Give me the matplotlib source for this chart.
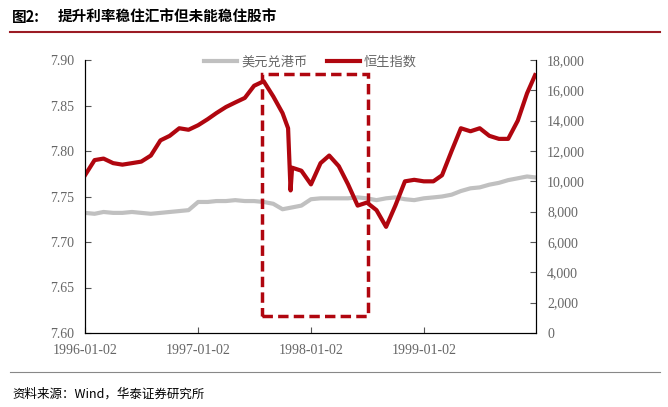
import matplotlib
matplotlib.use("Agg")
import matplotlib.pyplot as plt
import matplotlib.dates as mdates
from matplotlib.patches import Rectangle
import pandas as pd

plt.rcParams['font.family'] = ['Liberation Serif', 'Noto Sans CJK SC']

dates = list(pd.date_range("1996-01-01", periods=48, freq="MS") + pd.Timedelta(days=1))
hsi = [10400, 11400, 11500, 11200, 11100, 11200, 11300, 11700, 12700, 13000, 13500, 13400,
       13700, 14100, 14500, 14900, 15200, 15500, 16300, 16600, 15600, 14500, 10900, 10700,
       9800, 11200, 11700, 11000, 9800, 8400, 8600, 8100, 7000, 8400, 10000, 10100,
       10000, 10000, 10400, 12000, 13500, 13300, 13500, 13000, 12800, 12800, 14000, 15800]
extra_dates = [pd.Timestamp("1997-10-20"), pd.Timestamp("1997-10-28"), pd.Timestamp("1999-12-28")]
extra_hsi = [13500, 9400, 17000]
hkd = [7.732, 7.731, 7.733, 7.732, 7.732, 7.733, 7.732, 7.731, 7.732, 7.733, 7.734, 7.735,
       7.744, 7.744, 7.745, 7.745, 7.746, 7.745, 7.745, 7.744, 7.742, 7.736, 7.738, 7.740,
       7.747, 7.748, 7.748, 7.748, 7.748, 7.749, 7.748, 7.746, 7.748, 7.749, 7.747, 7.746,
       7.748, 7.749, 7.750, 7.752, 7.756, 7.759, 7.760, 7.763, 7.765, 7.768, 7.770, 7.772]
hkd_end = 7.771

s = pd.Series(hsi + extra_hsi, index=dates + extra_dates).sort_index()
h = pd.Series(hkd + [hkd_end], index=dates + [extra_dates[-1]]).sort_index()

box_x = [pd.Timestamp("1997-07-26"), pd.Timestamp("1998-07-06")]
box_y = [1100, 17100]

red = '#b0060f'
gray = '#c0c0c0'

fig = plt.figure(figsize=(6.68, 4.07), dpi=100)
ax = fig.add_axes([85/668, 1-333/407, (536-85)/668, (333-60)/407])
ax2 = ax.twinx()
ax.plot(h.index, h.values, color=gray, lw=3, label='美元兑港币')
ax2.plot(s.index, s.values, color=red, lw=3, label='恒生指数')
x0, x1 = mdates.date2num(box_x[0]), mdates.date2num(box_x[1])
ax2.add_patch(Rectangle((x0, box_y[0]), x1 - x0, box_y[1] - box_y[0], fill=False,
                        ec=red, lw=2.5, ls=(0, (3, 1.5))))
ax.set_xlim(pd.Timestamp("1996-01-02"), pd.Timestamp("1999-12-31"))
ax.set_ylim(7.60, 7.90)
ax2.set_ylim(0, 18000)
ax.set_yticks([7.60, 7.65, 7.70, 7.75, 7.80, 7.85, 7.90])
ax.set_yticklabels([f"{v:.2f}" for v in ax.get_yticks()])
ax2.set_yticks(range(0, 18001, 2000))
ax2.set_yticklabels([f"{v:,}" for v in range(0, 18001, 2000)])
xt = [pd.Timestamp(d) for d in ["1996-01-02", "1997-01-02", "1998-01-02", "1999-01-02"]]
ax.set_xticks(xt)
ax.set_xticklabels([d.strftime("%Y-%m-%d") for d in xt])
for a in (ax, ax2):
    a.spines['top'].set_visible(False)
    a.tick_params(labelsize=10, colors='#555555', length=4, direction='in')
    a.tick_params(axis='both', labelcolor='#666666')
ax.tick_params(axis='x', pad=8)
ax.tick_params(axis='y', pad=8)
ax2.tick_params(axis='y', pad=8)
l1, lb1 = ax.get_legend_handles_labels()
l2, lb2 = ax2.get_legend_handles_labels()
ax.legend(l1 + l2, lb1 + lb2, loc='upper center', bbox_to_anchor=(0.5, 1.06), ncol=2,
          frameon=False, prop={'family': ['Noto Sans CJK SC'], 'size': 9.5},
          handlelength=2.5, columnspacing=1.5, handletextpad=0.3, labelcolor='#666666')

fig.text(12/668, 1-17/407, '图2:', fontsize=10.5, fontweight='bold', family=['Noto Sans CJK SC'], va='center')
fig.text(58/668, 1-17/407, '提升利率稳住汇市但未能稳住股市', fontsize=10.5, fontweight='bold',
         family=['Noto Sans CJK SC'], va='center')
fig.add_artist(plt.Line2D([10/668, 660/668], [1-32/407, 1-32/407], color='#9b1b24', lw=1.5))
fig.add_artist(plt.Line2D([10/668, 660/668], [1-372/407, 1-372/407], color='#888888', lw=0.8))
fig.text(12/668, 1-394/407, '资料来源：Wind，华泰证券研究所', fontsize=9, style='italic',
         family=['Noto Sans CJK SC', 'DejaVu Sans'], va='center')
fig.savefig('out.png', dpi=100)
